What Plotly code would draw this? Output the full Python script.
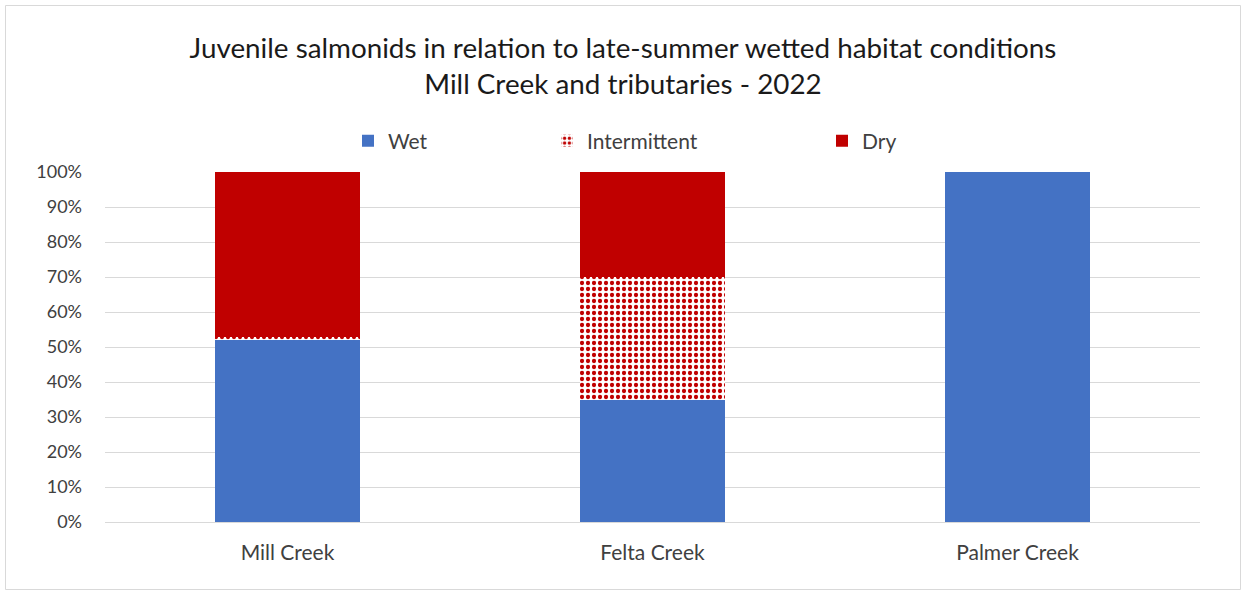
import plotly.graph_objects as go

categories = ["Mill Creek", "Felta Creek", "Palmer Creek"]
wet = [52, 35, 100]
intermittent = [1, 35, 0]
dry = [47, 30, 0]
tick_vals = [0, 10, 20, 30, 40, 50, 60, 70, 80, 90, 100]
tick_text = [f"{v}%" for v in tick_vals]

W, H = 1246, 592
L, R, T, B = 105, 46, 172, 70
pw = W - L - R
ph = H - T - B

def px(x):
    return (x - L) / pw

def py(y):
    return (H - B - y) / ph

fig = go.Figure()
fig.add_trace(go.Bar(x=categories, y=wet, name="Wet", marker=dict(color="#4472C4", line=dict(width=0)),
                     legend="legend", showlegend=True))
fig.add_trace(go.Bar(x=categories, y=intermittent, name="Intermittent",
                     marker=dict(color="white", line=dict(width=0),
                                 pattern=dict(shape=".", fgcolor="#C00000", bgcolor="white",
                                              size=6, solidity=0.4, fillmode="replace")),
                     legend="legend2", showlegend=True))
fig.add_trace(go.Bar(x=categories, y=dry, name="Dry", marker=dict(color="#C00000", line=dict(width=0)),
                     legend="legend3", showlegend=True))

font = "Lato, 'Open Sans', sans-serif"
leg_common = dict(orientation="h", xanchor="left", yanchor="middle", bgcolor="rgba(0,0,0,0)",
                  font=dict(size=21, color="#404040", family=font), itemwidth=30)

fig.update_layout(
    width=W, height=H,
    barmode="stack",
    bargap=1 - 145 / 365,
    showlegend=True,
    plot_bgcolor="white", paper_bgcolor="white",
    margin=dict(l=L, r=R, t=T, b=B),
    title=dict(text="Juvenile salmonids in relation to late-summer wetted habitat conditions<br>Mill Creek and tributaries - 2022",
               x=0.5, xanchor="center", y=1 - 58 / H, yanchor="middle",
               font=dict(size=27.8, color="#1a1a1a", family=font)),
    legend=dict(x=px(348), y=py(141), **leg_common),
    legend2=dict(x=px(547), y=py(141), **leg_common),
    legend3=dict(x=px(822), y=py(141), **leg_common),
    xaxis=dict(showgrid=False, showline=True, linecolor="#d9d9d9", linewidth=1,
               tickfont=dict(size=21, color="#404040", family=font), ticks="",
               ticklabelstandoff=12),
    yaxis=dict(range=[0, 100], tickvals=tick_vals, ticktext=tick_text,
               showgrid=True, gridcolor="#d9d9d9", gridwidth=1, zeroline=False,
               tickfont=dict(size=18, color="#404040", family=font), ticks="",
               ticklabelstandoff=22),
    shapes=[dict(type="rect", xref="paper", yref="paper",
                 x0=px(5.5), x1=px(1240.5), y0=py(589.5), y1=py(5.5),
                 line=dict(color="#d9d9d9", width=1), fillcolor="rgba(0,0,0,0)", layer="below")],
)

fig.write_html("out.html")
